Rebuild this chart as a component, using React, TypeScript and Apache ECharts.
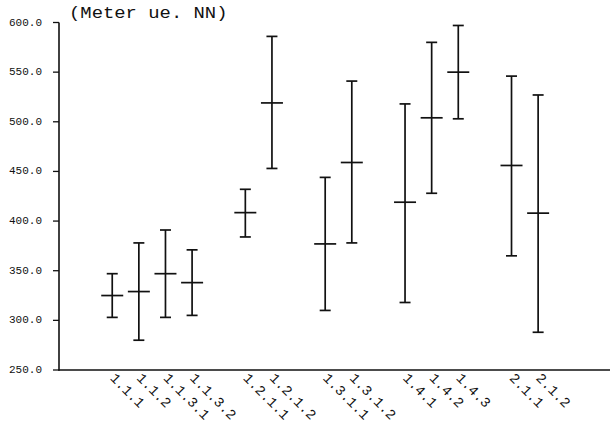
import React, { useEffect, useRef } from "react";
import * as echarts from "echarts";

const categories = ["1.1.1", "1.1.2", "1.1.3.1", "1.1.3.2", "1.2.1.1", "1.2.1.2", "1.3.1.1", "1.3.1.2", "1.4.1", "1.4.2", "1.4.3", "2.1.1", "2.1.2"];
const slots = [2, 3, 4, 5, 7, 8, 10, 11, 13, 14, 15, 17, 18];
const lows = [303, 280, 303, 305, 384, 453, 310, 378, 318, 428, 503, 365, 288];
const means = [325, 329, 347, 338, 408.5, 519, 377, 459, 419, 504, 550, 456, 408];
const highs = [347, 378, 391, 371, 432, 586, 444, 541, 518, 580, 597, 546, 527];
const yTicks = [250, 300, 350, 400, 450, 500, 550, 600];
const yMin = 250;
const yMax = 600;
const yStep = 50;
const unitLabel = "(Meter ue. NN)";

const MONO = "'Liberation Mono', 'DejaVu Sans Mono', monospace";
const INK = "#111";

export default function App() {
  const ref = useRef<HTMLDivElement>(null);
  useEffect(() => {
    if (!ref.current) return;
    const chart = echarts.init(ref.current, undefined, { renderer: "svg" });
    const data = slots.map((s, i) => [s, lows[i], means[i], highs[i]]);
    const nameBySlot: Record<number, string> = {};
    slots.forEach((s, i) => (nameBySlot[s] = categories[i]));
    chart.setOption({
      animation: false,
      backgroundColor: "#fff",
      grid: { left: 59, right: 0, top: 22.5, bottom: 58 },
      graphic: [
        {
          type: "text",
          left: 69,
          top: 5,
          scaleX: 1.18,
          style: { text: unitLabel, font: `16px ${MONO}`, fill: INK },
        },
      ],
      xAxis: {
        type: "value",
        min: 0,
        max: 20.7,
        interval: 1,
        splitLine: { show: false },
        axisTick: { show: false },
        axisLine: { show: true, onZero: false, lineStyle: { color: INK, width: 1.5 } },
        axisLabel: {
          rotate: -45,
          margin: 6,
          fontFamily: MONO,
          fontSize: 14,
          color: INK,
          showMinLabel: false,
          showMaxLabel: false,
          formatter: (v: number) => nameBySlot[Math.round(v)] ?? "",
        },
      },
      yAxis: {
        type: "value",
        min: yMin,
        max: yMax,
        interval: yStep,
        splitLine: { show: false },
        axisLine: { show: false },
        axisTick: { show: false },
        axisLabel: {
          margin: 17,
          fontFamily: MONO,
          fontSize: 11,
          color: INK,
          formatter: (v: number) => v.toFixed(1),
        },
      },
      series: [
        {
          type: "custom",
          clip: false,
          silent: true,
          z: 5,
          data: yTicks.map((v) => [0, v]),
          encode: { x: 0, y: 1 },
          renderItem: (params: any, api: any) => {
            const p = api.coord([api.value(0), api.value(1)]);
            const children: any[] = [
              { type: "line", shape: { x1: p[0] - 6, y1: p[1], x2: p[0], y2: p[1] }, style: { stroke: INK, lineWidth: 1.3 } },
            ];
            if (params.dataIndex === 0) {
              const top = api.coord([0, yMax]);
              children.push({ type: "line", shape: { x1: p[0], y1: p[1] + 0.75, x2: top[0], y2: top[1] }, style: { stroke: INK, lineWidth: 1.6 } });
            }
            return { type: "group", children };
          },
        },
        {
          type: "custom",
          data,
          encode: { x: 0, y: [1, 2, 3] },
          renderItem: (params: any, api: any) => {
            const x = api.value(0);
            const lo = api.coord([x, api.value(1)]);
            const mid = api.coord([x, api.value(2)]);
            const hi = api.coord([x, api.value(3)]);
            const style = { stroke: INK, lineWidth: 1.7 };
            const cap = 5.5;
            const mw = 11;
            return {
              type: "group",
              children: [
                { type: "line", shape: { x1: lo[0], y1: lo[1], x2: hi[0], y2: hi[1] }, style },
                { type: "line", shape: { x1: hi[0] - cap, y1: hi[1], x2: hi[0] + cap, y2: hi[1] }, style },
                { type: "line", shape: { x1: lo[0] - cap, y1: lo[1], x2: lo[0] + cap, y2: lo[1] }, style },
                { type: "line", shape: { x1: mid[0] - mw, y1: mid[1], x2: mid[0] + mw, y2: mid[1] }, style },
              ],
            };
          },
        },
      ],
    });
    return () => chart.dispose();
  }, []);
  return <div ref={ref} style={{ width: 610, height: 428, position: "absolute", left: 0, top: 0 }} />;
}
